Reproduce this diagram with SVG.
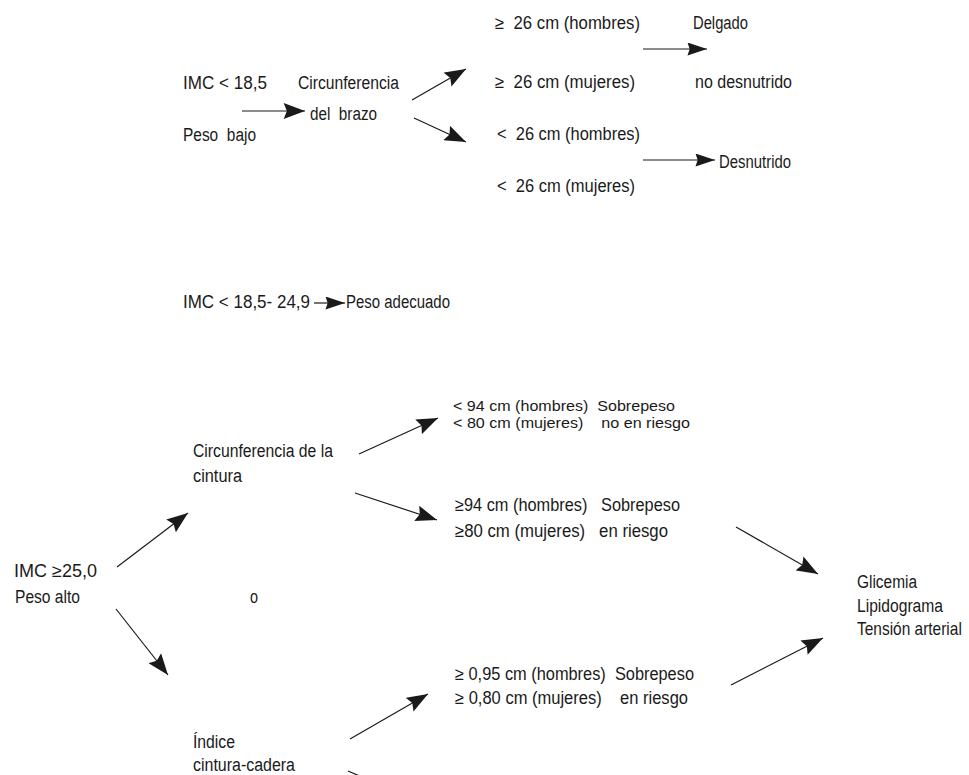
<svg xmlns="http://www.w3.org/2000/svg" width="969" height="775" viewBox="0 0 969 775">
<style>
text{font-family:"Liberation Sans",Arial,sans-serif;font-size:18px;fill:#1a1a1a;white-space:pre}
text.s{font-size:14.5px}
.ln{stroke:#1a1a1a;stroke-width:1.2;fill:none}
.big{marker-end:url(#ah)}
.sm{marker-end:url(#as)}
</style>
<defs>
<marker id="ah" markerUnits="userSpaceOnUse" markerWidth="22" markerHeight="16" refX="20" refY="7.5" orient="auto" viewBox="0 0 20 15">
<path d="M0,0 L20,7.5 L0,15 L3,7.5 Z" fill="#1a1a1a"/>
</marker>
<marker id="as" markerUnits="userSpaceOnUse" markerWidth="20" markerHeight="13" refX="18" refY="6" orient="auto" viewBox="0 0 18 12">
<path d="M0,0 L18,6 L0,12 L2,6 Z" fill="#1a1a1a"/>
</marker>
</defs>
<rect width="969" height="775" fill="#fff"/>
<g id="connectors">
<line class="ln big" x1="242" y1="111" x2="305" y2="111"/>
<line class="ln big" x1="412" y1="100" x2="466" y2="69"/>
<line class="ln big" x1="414" y1="118" x2="466" y2="142"/>
<line class="ln sm" x1="643" y1="49" x2="707" y2="49"/>
<line class="ln sm" x1="643" y1="160" x2="715" y2="160"/>
<line class="ln sm" x1="314" y1="303" x2="345" y2="303"/>
<line class="ln big" x1="117" y1="567" x2="188" y2="513"/>
<line class="ln big" x1="116" y1="609" x2="168" y2="675"/>
<line class="ln big" x1="359" y1="454" x2="438" y2="418"/>
<line class="ln big" x1="355" y1="493" x2="437" y2="520"/>
<line class="ln big" x1="350" y1="739" x2="428" y2="694"/>
<line class="ln" x1="348" y1="771" x2="362" y2="777"/>
<line class="ln big" x1="736" y1="527" x2="818" y2="574"/>
<line class="ln big" x1="731" y1="685" x2="823" y2="638"/>
</g>
<g id="n-imc-bajo"><text x="183" y="89" textLength="84" lengthAdjust="spacingAndGlyphs">IMC &lt; 18,5</text><text x="183" y="141" textLength="73" lengthAdjust="spacingAndGlyphs">Peso  bajo</text></g>
<g id="n-brazo"><text x="298" y="89" textLength="101" lengthAdjust="spacingAndGlyphs">Circunferencia</text><text x="310" y="120" textLength="67" lengthAdjust="spacingAndGlyphs">del  brazo</text></g>
<g id="n-brazo-mayor"><text x="495" y="29" textLength="145" lengthAdjust="spacingAndGlyphs">≥  26 cm (hombres)</text><text x="495" y="88" textLength="140" lengthAdjust="spacingAndGlyphs">≥  26 cm (mujeres)</text></g>
<g id="n-delgado"><text x="693" y="29" textLength="55" lengthAdjust="spacingAndGlyphs">Delgado</text><text x="695" y="88" textLength="97" lengthAdjust="spacingAndGlyphs">no desnutrido</text></g>
<g id="n-brazo-menor"><text x="497" y="140" textLength="143" lengthAdjust="spacingAndGlyphs">&lt;  26 cm (hombres)</text><text x="497" y="192" textLength="138" lengthAdjust="spacingAndGlyphs">&lt;  26 cm (mujeres)</text></g>
<g id="n-desnutrido"><text x="719" y="168" textLength="72" lengthAdjust="spacingAndGlyphs">Desnutrido</text></g>
<g id="n-imc-normal"><text x="183" y="308" textLength="127" lengthAdjust="spacingAndGlyphs">IMC &lt; 18,5- 24,9</text></g>
<g id="n-adecuado"><text x="346" y="308" textLength="104" lengthAdjust="spacingAndGlyphs">Peso adecuado</text></g>
<g id="n-imc-alto"><text x="14" y="577" textLength="83" lengthAdjust="spacingAndGlyphs">IMC ≥25,0</text><text x="15" y="603" textLength="65" lengthAdjust="spacingAndGlyphs">Peso alto</text></g>
<g id="n-o"><text x="250" y="603" textLength="8" lengthAdjust="spacingAndGlyphs">o</text></g>
<g id="n-cintura"><text x="193" y="457" textLength="140" lengthAdjust="spacingAndGlyphs">Circunferencia de la</text><text x="193" y="482" textLength="49" lengthAdjust="spacingAndGlyphs">cintura</text></g>
<g id="n-cintura-menor"><text class="s" x="453" y="411" textLength="222" lengthAdjust="spacingAndGlyphs">&lt; 94 cm (hombres)  Sobrepeso</text><text class="s" x="453" y="428" textLength="237" lengthAdjust="spacingAndGlyphs">&lt; 80 cm (mujeres)    no en riesgo</text></g>
<g id="n-cintura-mayor"><text x="455" y="511" textLength="225" lengthAdjust="spacingAndGlyphs">≥94 cm (hombres)   Sobrepeso</text><text x="455" y="537" textLength="213" lengthAdjust="spacingAndGlyphs">≥80 cm (mujeres)   en riesgo</text></g>
<g id="n-indice"><text x="193" y="748" textLength="42" lengthAdjust="spacingAndGlyphs">Índice</text><text x="193" y="771" textLength="102" lengthAdjust="spacingAndGlyphs">cintura-cadera</text></g>
<g id="n-indice-mayor"><text x="455" y="680" textLength="239" lengthAdjust="spacingAndGlyphs">≥ 0,95 cm (hombres)  Sobrepeso</text><text x="455" y="704" textLength="233" lengthAdjust="spacingAndGlyphs">≥ 0,80 cm (mujeres)    en riesgo</text></g>
<g id="n-estudios"><text x="857" y="588" textLength="60" lengthAdjust="spacingAndGlyphs">Glicemia</text><text x="857" y="612" textLength="86" lengthAdjust="spacingAndGlyphs">Lipidograma</text><text transform="translate(857,635) scale(0.86,1)" x="0" y="0">Tensión arterial</text></g>
</svg>
